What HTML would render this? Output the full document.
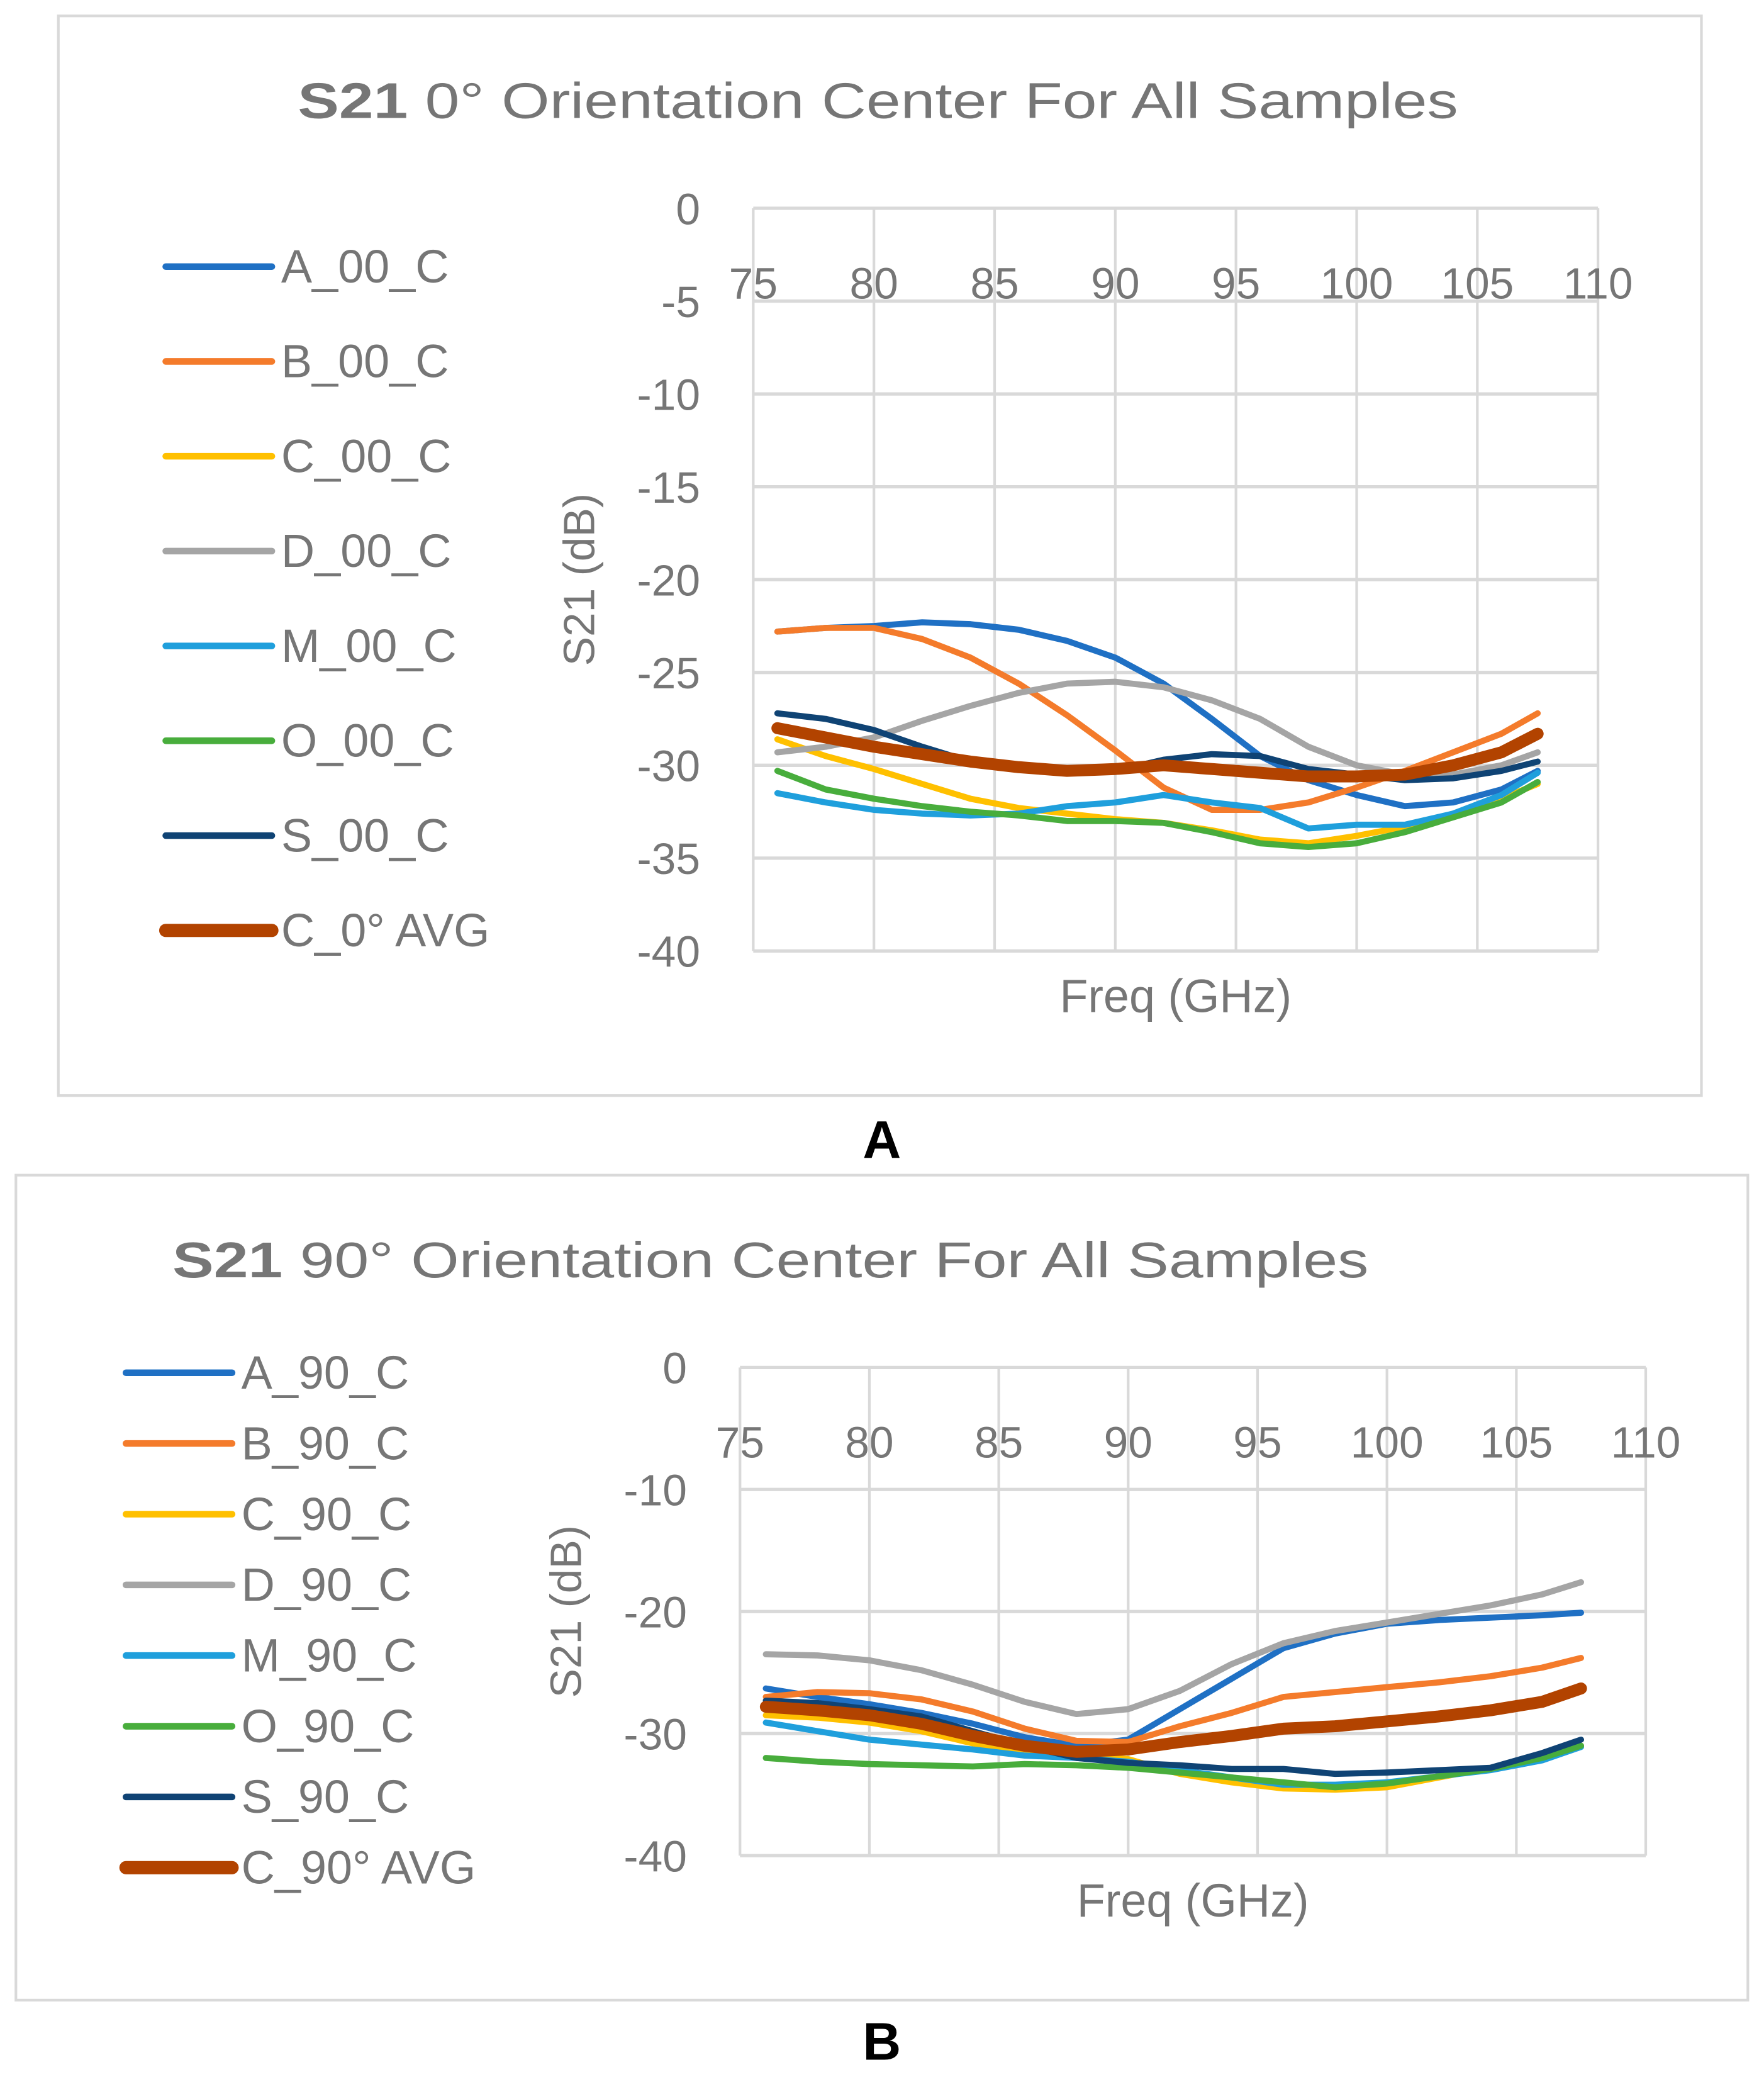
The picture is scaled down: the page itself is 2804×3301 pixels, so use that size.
<!DOCTYPE html>
<html><head><meta charset="utf-8"><style>
html,body{margin:0;padding:0;background:#fff}
svg{display:block}
text{font-family:"Liberation Sans",sans-serif;fill:#767676}
</style></head><body>
<svg id="s" width="2804" height="3301" viewBox="0 0 1330.17 1565.94" xmlns="http://www.w3.org/2000/svg">
<rect x="0" y="0" width="1330.17" height="1565.94" fill="#fff"/>
<rect x="44" y="12" width="1239" height="814" fill="#fff" stroke="#d9d9d9" stroke-width="2"/>
<text x="662" y="89" font-size="38" text-anchor="middle" textLength="875" lengthAdjust="spacingAndGlyphs"><tspan font-weight="bold">S21</tspan> 0° Orientation Center For All Samples</text>
<text x="665" y="873" font-size="40" font-weight="bold" text-anchor="middle" style="fill:#000">A</text>
<rect x="12" y="886" width="1306" height="622" fill="#fff" stroke="#d9d9d9" stroke-width="2"/>
<text x="130" y="963" font-size="38" textLength="902" lengthAdjust="spacingAndGlyphs"><tspan font-weight="bold">S21</tspan> 90° Orientation Center For All Samples</text>
<text x="665" y="1553" font-size="40" font-weight="bold" text-anchor="middle" style="fill:#000">B</text>
<g id="ga"></g><g id="gb"></g>
</svg>
<script>
const freqs=[76,78,80,82,84,86,88,90,92,94,96,98,100,102,104,106,107.5];
const xTicks=[75,80,85,90,95,100,105,110];
const yTicksA=[0,-5,-10,-15,-20,-25,-30,-35,-40];
const yTicksB=[0,-10,-20,-30,-40];
const namesA=["A_00_C","B_00_C","C_00_C","D_00_C","M_00_C","O_00_C","S_00_C","C_0° AVG"];
const namesB=["A_90_C","B_90_C","C_90_C","D_90_C","M_90_C","O_90_C","S_90_C","C_90° AVG"];
const colors=["#1f70c4","#f47b2b","#ffc000","#a5a5a5","#1f9fdc","#48ad3c","#0f4374","#b24300"];
const A_00=[-22.8,-22.6,-22.5,-22.3,-22.4,-22.7,-23.3,-24.2,-25.6,-27.5,-29.5,-30.8,-31.6,-32.2,-32.0,-31.3,-30.3];
const B_00=[-22.8,-22.6,-22.6,-23.2,-24.2,-25.6,-27.3,-29.2,-31.2,-32.4,-32.4,-32.0,-31.2,-30.3,-29.3,-28.3,-27.2];
const C_00=[-28.6,-29.5,-30.2,-31.0,-31.8,-32.3,-32.6,-32.9,-33.1,-33.5,-34.0,-34.2,-33.8,-33.3,-32.6,-31.8,-31.0];
const D_00=[-29.3,-29.0,-28.5,-27.6,-26.8,-26.1,-25.6,-25.5,-25.8,-26.5,-27.5,-29.0,-30.0,-30.5,-30.5,-30.0,-29.3];
const M_00=[-31.5,-32.0,-32.4,-32.6,-32.7,-32.6,-32.2,-32.0,-31.6,-32.0,-32.3,-33.4,-33.2,-33.2,-32.6,-31.6,-30.4];
const O_00=[-30.3,-31.3,-31.8,-32.2,-32.5,-32.7,-33.0,-33.0,-33.1,-33.6,-34.2,-34.4,-34.2,-33.6,-32.8,-32.0,-30.9];
const S_00=[-27.2,-27.5,-28.1,-29.0,-29.8,-30.2,-30.4,-30.3,-29.7,-29.4,-29.5,-30.2,-30.5,-30.8,-30.7,-30.3,-29.8];
const AVG_00=[-28.0,-28.5,-29.0,-29.4,-29.8,-30.1,-30.3,-30.2,-30.0,-30.2,-30.4,-30.6,-30.6,-30.5,-30.0,-29.3,-28.3];
const A_90=[-26.3,-27.0,-27.6,-28.3,-29.2,-30.3,-31.0,-30.5,-28.0,-25.5,-23.0,-21.8,-21.0,-20.7,-20.5,-20.3,-20.1];
const B_90=[-27.0,-26.6,-26.7,-27.2,-28.2,-29.6,-30.6,-30.7,-29.4,-28.3,-27.0,-26.6,-26.2,-25.8,-25.3,-24.6,-23.8];
const C_90=[-28.5,-28.7,-29.1,-29.8,-30.8,-31.5,-31.8,-32.1,-33.3,-34.0,-34.5,-34.6,-34.4,-33.6,-32.8,-32.0,-31.0];
const D_90=[-23.5,-23.6,-24.0,-24.8,-26.0,-27.4,-28.4,-28.0,-26.5,-24.3,-22.6,-21.6,-20.9,-20.2,-19.5,-18.6,-17.6];
const M_90=[-29.1,-29.8,-30.5,-30.9,-31.3,-31.8,-32.0,-32.3,-33.0,-33.6,-34.2,-34.2,-34.0,-33.5,-33.0,-32.2,-31.1];
const O_90=[-32.0,-32.3,-32.5,-32.6,-32.7,-32.5,-32.6,-32.8,-33.2,-33.6,-34.0,-34.4,-34.1,-33.5,-32.9,-32.0,-31.0];
const S_90=[-27.3,-27.5,-28.0,-28.6,-29.8,-31.0,-32.0,-32.4,-32.6,-32.9,-32.9,-33.3,-33.2,-33.0,-32.8,-31.6,-30.5];
const AVG_90=[-27.8,-28.1,-28.5,-29.2,-30.2,-31.0,-31.5,-31.3,-30.7,-30.2,-29.6,-29.4,-29.0,-28.6,-28.1,-27.4,-26.3];

const NS="http://www.w3.org/2000/svg";
function mk(tag,attrs,parent){const e=document.createElementNS(NS,tag);for(const k in attrs)e.setAttribute(k,attrs[k]);parent.appendChild(e);return e;}

function chart(g,cfg){
  const sx=v=>cfg.x0+(v-75)/35*(cfg.x1-cfg.x0);
  const sy=v=>cfg.y0+(v/-40)*(cfg.y1-cfg.y0);
  xTicks.forEach(t=>{
    const l=mk('line',{x1:sx(t),x2:sx(t),y1:cfg.y0,y2:cfg.y1,stroke:'#d9d9d9','stroke-width':2},g);
    
    
    const tx=mk('text',{x:sx(t),y:cfg.y0+68,'font-size':33,'text-anchor':'middle'},g);
    tx.textContent=t;
    
    
  });
  cfg.yTicks.forEach(t=>{
    const l=mk('line',{x1:cfg.x0,x2:cfg.x1,y1:sy(t),y2:sy(t),stroke:'#d9d9d9','stroke-width':2.5},g);
    
    
    const tx=mk('text',{x:cfg.x0-40,y:sy(t)+12,'font-size':33,'text-anchor':'end'},g);
    tx.textContent=t;
    
    
  });
  const xt=mk('text',{x:(cfg.x0+cfg.x1)/2,y:cfg.y1+46,'font-size':35,'text-anchor':'middle'},g);
  xt.textContent='Freq (GHz)';
  
  
  const yt=mk('text',{x:0,y:0,'font-size':33,'text-anchor':'middle',transform:`translate(${cfg.ytx},${(cfg.y0+cfg.y1)/2-cfg.ytOff}) rotate(-90)`},g);
  yt.textContent='S21 (dB)';
  
  
  cfg.series.forEach((s,i)=>{
    const d=s.map((v,j)=>(j?'L':'M')+sx(freqs[j]).toFixed(1)+','+sy(v).toFixed(1)).join(' ');
    const p=mk('path',{d:d,fill:'none',stroke:colors[i],'stroke-width':i==7?9:4.6,'stroke-linejoin':'round','stroke-linecap':'round'},g);
    
    
    const ly=cfg.ly0+i*cfg.lstep;
    const ll=mk('line',{x1:cfg.lx,x2:cfg.lx+80,y1:ly,y2:ly,stroke:colors[i],'stroke-width':i==7?10:5,'stroke-linecap':'round'},g);
    
    
    const lt=mk('text',{x:cfg.lx+87,y:ly+12,'font-size':35},g);
    lt.textContent=cfg.names[i];
    
    
  });
}
chart(document.getElementById('ga'),{x0:568,x1:1205,y0:157,y1:717,yTicks:yTicksA,ytx:448,ytOff:0,
  series:[A_00,B_00,C_00,D_00,M_00,O_00,S_00,AVG_00],names:namesA,lx:125,ly0:201,lstep:71.5});
chart(document.getElementById('gb'),{x0:558,x1:1241,y0:1031,y1:1399,yTicks:yTicksB,ytx:438,ytOff:0,
  series:[A_90,B_90,C_90,D_90,M_90,O_90,S_90,AVG_90],names:namesB,lx:95,ly0:1035,lstep:53.3});
</script>
</body></html>
